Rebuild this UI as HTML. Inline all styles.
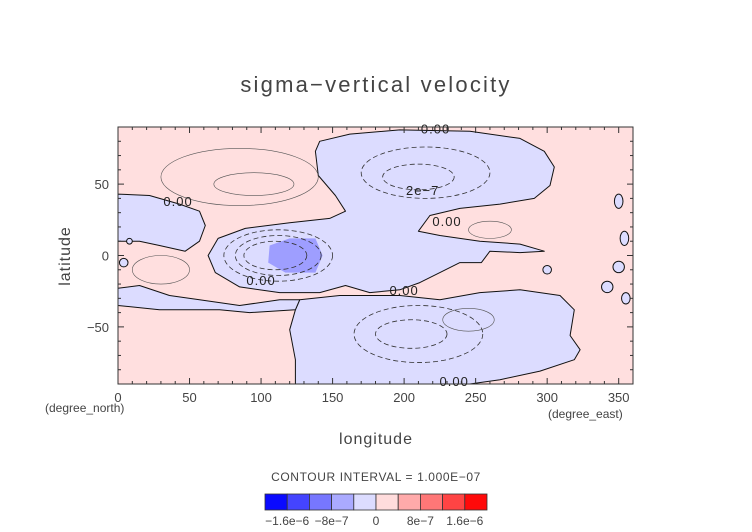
<!DOCTYPE html>
<html><head><meta charset="utf-8"><style>
body{margin:0;background:#fff;}
svg{display:block;font-family:"Liberation Sans",sans-serif;}
</style></head><body>
<svg id="c" width="752" height="532" viewBox="0 0 752 532">
<text x="376" y="92" text-anchor="middle" font-size="22" fill="#444" letter-spacing="2.2">sigma−vertical velocity</text>
<g id="plot"></g>
<text x="376" y="444" text-anchor="middle" font-size="16" fill="#444" letter-spacing="1">longitude</text>
<text transform="translate(70,256) rotate(-90)" text-anchor="middle" font-size="16" fill="#444" letter-spacing="1">latitude</text>
<text x="45" y="412" font-size="12" fill="#444">(degree_north)</text>
<text x="548" y="418" font-size="12" fill="#444">(degree_east)</text>
<text x="376" y="481" text-anchor="middle" font-size="12" fill="#444" letter-spacing="0.6">CONTOUR INTERVAL = 1.000E−07</text>
<g id="cbar"></g>
</svg>
<script>
const X0=118,X1=633,Y0=127,Y1=384;
const xs=v=>X0+(v/360)*(X1-X0);
const ys=v=>Y0+((90-v)/180)*(Y1-Y0);
const NS='http://www.w3.org/2000/svg';
const plot=document.getElementById('plot');
function mk(tag,attrs,parent){const e=document.createElementNS(NS,tag);for(const k in attrs)e.setAttribute(k,attrs[k]);(parent||plot).appendChild(e);return e;}
const xTicks=[0,50,100,150,200,250,300,350];
const yTicks=[-50,0,50];
const northCentralBlue=[[138,73],[141,80],[162,85],[197,88],[246,87],[281,82],[298,73],[305,62],[302,49],[291,40],[267,36],[239,33],[218,28],[210,17],[225,14],[253,10],[281,8],[298,3],[281,2],[260,3],[254,-5],[239,-5],[225,-12],[211,-19],[197,-24],[176,-26],[159,-21],[141,-26],[113,-26],[85,-22],[68,-12],[63,0],[70,12],[89,19],[120,23],[148,26],[159,31],[152,42],[140,56]];
const southBlue=[[127,-31],[155,-28],[197,-28],[225,-31],[253,-26],[281,-24],[309,-28],[319,-38],[316,-56],[323,-66],[319,-73],[295,-81],[267,-87],[246,-90],[124,-90],[124,-73],[120,-52],[124,-38]];
const westBlue=[[0,43],[22,42],[43,36],[57,31],[61,21],[57,10],[47,3],[29,7],[15,10],[0,10]];
const lowWestBlue=[[0,-23],[15,-21],[36,-28],[57,-31],[85,-35],[113,-31],[127,-31],[124,-38],[92,-40],[71,-38],[29,-38],[0,-35]];
const darkBlue=[[106,7],[120,12],[138,12],[143,0],[138,-12],[117,-12],[105,-5]];
const smallBlue=[[350,38,3,5],[354,12,3,5],[350,-8,4,4],[342,-22,4,4],[355,-30,3,4],[300,-10,3,3],[4,-5,3,3],[8,10,2,2]];
const negRings=[[215,58,45,18],[210,55,25,9],[112,0,38,18],[112,0,30,14],[110,0,22,10],[210,-55,45,20],[205,-55,25,10]];
const posRings=[[85,55,55,20],[95,50,28,8],[30,-10,20,10],[260,18,15,6],[245,-45,18,8]];
function poly(pts,fill,name){
  const p=mk('path',{d:'M'+pts.map(q=>xs(q[0]).toFixed(1)+','+ys(q[1]).toFixed(1)).join('L')+'Z',fill:fill,stroke:'#111','stroke-width':1,'stroke-linejoin':'round'});
  
  
}
const bg=mk('rect',{x:X0,y:Y0,width:X1-X0,height:Y1-Y0,fill:'#ffdfdf'});


poly(northCentralBlue,'#dcdcff','north-central-negative-region');
poly(southBlue,'#dcdcff','south-negative-region');
poly(westBlue,'#dcdcff','west-negative-region');
poly(lowWestBlue,'#dcdcff','lower-west-negative-region');
const db=mk('path',{d:'M'+darkBlue.map(q=>xs(q[0])+','+ys(q[1])).join('L')+'Z',fill:'#9e9eff',stroke:'none'});


smallBlue.forEach(s=>{const e=mk('ellipse',{cx:xs(s[0]),cy:ys(s[1]),rx:s[2]*515/360,ry:s[3]*257/180,fill:'#dcdcff',stroke:'#111','stroke-width':1});

});
negRings.forEach(s=>{const e=mk('ellipse',{cx:xs(s[0]),cy:ys(s[1]),rx:s[2]*515/360,ry:s[3]*257/180,fill:'none',stroke:'#333','stroke-width':0.8,'stroke-dasharray':'5,3'});

});
posRings.forEach(s=>{const e=mk('ellipse',{cx:xs(s[0]),cy:ys(s[1]),rx:s[2]*515/360,ry:s[3]*257/180,fill:'none',stroke:'#555','stroke-width':0.6});

});
const labels=[[222,89,'0.00'],[42,38,'0.00'],[230,24,'0.00'],[100,-17,'0.00'],[200,-24,'0.00'],[235,-88,'0.00'],[213,46,'2e−7']];
labels.forEach(l=>{const t=mk('text',{x:xs(l[0]),y:ys(l[1])+5,'text-anchor':'middle','font-size':13,fill:'#222','letter-spacing':1});t.textContent=l[2];

});
const fr=mk('rect',{x:X0,y:Y0,width:X1-X0,height:Y1-Y0,fill:'none',stroke:'#333','stroke-width':1});


for(let v=0;v<=360;v+=10){const M=v%50==0?6:3;mk('line',{x1:xs(v),x2:xs(v),y1:Y1,y2:Y1-M,stroke:'#333'});mk('line',{x1:xs(v),x2:xs(v),y1:Y0,y2:Y0+M,stroke:'#333'});}
for(let v=-90;v<=90;v+=10){const M=v%50==0?6:3;mk('line',{x1:X0,x2:X0+M,y1:ys(v),y2:ys(v),stroke:'#333'});mk('line',{x1:X1,x2:X1-M,y1:ys(v),y2:ys(v),stroke:'#333'});}
xTicks.forEach(v=>{const t=mk('text',{x:xs(v),y:402,'text-anchor':'middle','font-size':13,fill:'#444'});t.textContent=v;

});
yTicks.forEach(v=>{const t=mk('text',{x:109,y:ys(v)+5,'text-anchor':'end','font-size':13,fill:'#444'});t.textContent=v<0?'−'+(-v):v;

});
const cbColors=['#0a0aff','#4444ff','#7777ff','#aaaaff','#dcdcff','#ffdcdc','#ffaaaa','#ff7777','#ff4444','#ff0a0a'];
const cbLabels=['−1.6e−6','−8e−7','0','8e−7','1.6e−6'];
const cb=document.getElementById('cbar');
const CX=265,CW=22.2;
cbColors.forEach((c,i)=>{const r=mk('rect',{x:CX+i*CW,y:494,width:CW,height:16,fill:c,stroke:'#333','stroke-width':0.8},cb);

});
cbLabels.forEach((l,i)=>{const t=mk('text',{x:CX+CW*(1+2*i),y:525,'text-anchor':'middle','font-size':12,fill:'#444'},cb);t.textContent=l;

});
</script>
</body></html>
